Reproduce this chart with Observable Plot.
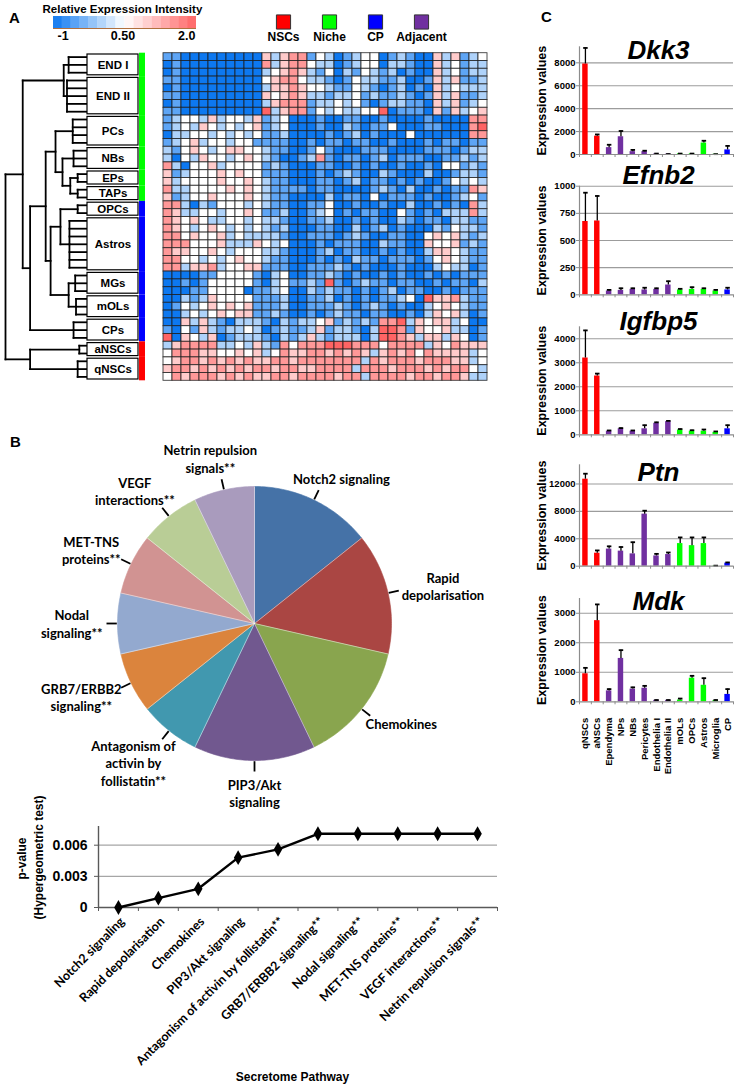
<!DOCTYPE html>
<html><head><meta charset="utf-8">
<script src="https://cdn.jsdelivr.net/npm/d3@7"></script>
<script src="https://cdn.jsdelivr.net/npm/@observablehq/plot@0.6"></script>
<style>
body{margin:0;background:#fff}
#fig{position:relative;width:738px;height:1085px;overflow:hidden;background:#fff}
#fig svg{position:absolute;left:0;top:0}
</style></head><body><div id="fig"></div>
<script>
// ---------------- DATA ----------------
// Panel A heatmap: 42 rows x 36 genes, digit level 0..6 -> value via heatLevels
const heatLevels = [-1, -0.5, 0, 0.5, 1, 1.5, 2];
const heatRows = [
 ["11000000000","42455","13201233012100424123"],
 ["01000000000","52455","32201233022100423122"],
 ["01000000000","23454","21302132120100423122"],
 ["11000000000","34553","22101322112001424112"],
 ["01000000000","24454","33211321012010423222"],
 ["11000000000","43454","22122312112101424112"],
 ["01000000000","24555","12232310122110424123"],
 ["11000000000","62455","13232233601110414234"],
 ["12332423324","12300","01001100100001000055"],
 ["12324323234","12300","01002101130001100056"],
 ["02233232323","11200","00101201000300000055"],
 ["12342332331","11100","10110110010001011011"],
 ["21343234433","21100","13100011100001110122"],
 ["20324332343","21001","25101101201110011212"],
 ["52033423333","12100","01100101001001033121"],
 ["41233343433","11100","01012100210002001221"],
 ["42333343343","21100","01101201101010013232"],
 ["52233334343","21111","01100001210200101154"],
 ["41233433343","21100","00201103011101001231"],
 ["55202133323","21100","11300100100200101052"],
 ["54223323343","11200","12301011003101022252"],
 ["54343223323","22100","11200101002101102211"],
 ["54323432323","21200","01100201201000213221"],
 ["55343342322","22100","11101210011003434212"],
 ["55533342224","32300","01011100211004334121"],
 ["54433432333","22100","01201100101002443211"],
 ["55332323433","21100","01010211011101343211"],
 ["55244523344","11100","11121010001000232201"],
 ["00001133331","02300","11210100101001010111"],
 ["00101333331","02311","21610121101100101102"],
 ["00011333301","12300","21211010120110010111"],
 ["00212433331","11200","11201010112306445211"],
 ["01323434341","11200","11121012101002343211"],
 ["00232343441","12100","10121101100102434201"],
 ["00424210222","10212","23412121556243442300"],
 ["10314212232","01211","24122102665143342201"],
 ["60432401222","10212","42122202665424424301"],
 ["24555522324","21535","55666555355552435444"],
 ["35554433434","23544","55454542454535444423"],
 ["34554545454","45545","55555525455545554423"],
 ["45545454545","54554","45555255545554545532"],
 ["35455545454","45545","55545525555455455422"]
].map(a => a.join(""));

const groups      = ["END I","END II","PCs","NBs","EPs","TAPs","OPCs","Astros","MGs","mOLs","CPs","aNSCs","qNSCs"];
const groupRows   = [3,5,4,3,2,2,2,7,3,3,3,2,3];
const groupClass  = ["Niche","Niche","Niche","Niche","Niche","Niche","CP","CP","CP","CP","CP","NSCs","NSCs"];
const groupInner  = [2.3,2.5,1.8,1.7,1.2,1.2,1.2,2.2,1.5,1.4,1.7,1.0,1.2];
// dendrogram merges (h = linkage distance)
const tree = {h:10, c:[
  {h:7.9, c:[
    {h:2.9, c:["END I","END II"]},
    {h:7.0, c:[
      {h:5.1, c:[
        {h:3.9, c:["PCs", {h:3.05, c:["NBs", {h:2.1, c:["EPs","TAPs"]}]}]},
        {h:4.5, c:[{h:3.3, c:["OPCs","Astros"]}, {h:2.3, c:["MGs","mOLs"]}]}
      ]},
      "CPs"
    ]}
  ]},
  {h:7.0, c:["aNSCs","qNSCs"]}
]};

const legendCats   = ["NSCs","Niche","CP","Adjacent"];
const legendColors = ["#ff0000","#00ff00","#0000ff","#7030a0"];
const legendTicks  = [-1, 0.5, 2];
const legendTickLabels = ["-1","0.50","2.0"];

// Panel B
const pieNames  = ["Notch2 signaling","Rapid\ndepolarisation","Chemokines","PIP3/Akt\nsignaling","Antagonism of\nactivin by\nfollistatin**","GRB7/ERBB2\nsignaling**","Nodal\nsignaling**","MET-TNS\nproteins**","VEGF\ninteractions**","Netrin repulsion\nsignals**"];
const pieValues = [2,2,2,2,1,1,1,1,1,1];
const pieColors = ["#4572a7","#aa4643","#89a54e","#71588f","#4198af","#db843d","#93a9cf","#d19392","#b9cd96","#a99bbd"];
const pathways  = ["Notch2 signaling","Rapid depolarisation","Chemokines","PIP3/Akt signaling","Antagonism of activin by follistatin**","GRB7/ERBB2 signaling**","Nodal signaling**","MET-TNS proteins**","VEGF interactions**","Netrin repulsion signals**"];
const pValues   = [0,0.0009,0.0018,0.0048,0.0056,0.0071,0.0071,0.0071,0.0071,0.0071];
const pTicks    = [0,0.003,0.006];
const pTickLabels = ["0","0.003","0.006"];

// Panel C
const cellTypes = ["qNSCs","aNSCs","Ependyma","NPs","NBs","Pericytes","Endothelia I","Endothelia II","mOLs","OPCs","Astros","Microglia","CP"];
const cellGroup = ["NSCs","NSCs","Adjacent","Adjacent","Adjacent","Adjacent","Adjacent","Adjacent","Niche","Niche","Niche","Niche","CP"];
const dkk3Mean   = [7900,1600,600,1550,250,250,50,30,60,60,1000,20,400];
const dkk3Top    = [9300,1750,850,2050,400,330,80,40,80,80,1200,30,750];
const dkk3Ticks  = [0,2000,4000,6000,8000];
const efnb2Mean  = [675,680,35,40,50,45,50,90,45,50,50,35,45];
const efnb2Top   = [940,910,45,60,60,65,60,125,55,70,60,45,65];
const efnb2Ticks = [0,250,500,750,1000];
const igfbp5Mean = [3200,2450,150,250,150,250,480,550,200,150,150,100,250];
const igfbp5Top  = [4350,2550,180,280,180,400,520,580,240,190,220,140,400];
const igfbp5Ticks= [0,1000,2000,3000,4000];
const ptnMean    = [12700,1900,2500,2200,1800,7600,1500,1700,3300,3000,3300,50,450];
const ptnTop     = [13500,2300,2900,2800,3500,8100,1800,2000,4200,4200,4200,80,550];
const ptnTicks   = [0,4000,8000,12000];
const mdkMean    = [950,2750,370,1470,430,460,50,50,60,800,560,40,250];
const mdkTop     = [1150,3300,430,1750,490,540,60,60,110,880,800,60,430];
const mdkTicks   = [0,1000,2000,3000];

// ---------------- RENDER ----------------
const ARIAL = "'Liberation Sans', Arial, Helvetica, sans-serif";
const CAL = "Lato, 'Open Sans', sans-serif";
const W = 738, H = 1085;
const fig = document.getElementById("fig");
function layer(opts){
  const svg = Plot.plot({width: W, height: H, margin: 0, ...opts,
    style: {background: "transparent", overflow: "visible", fontFamily: ARIAL, fontSize: "11px", color: "#000"}});
  fig.appendChild(svg);
  return svg;
}
const groupColor = Object.fromEntries(legendCats.map((c,i)=>[c, legendColors[i]]));
const heatColor = {type: "linear", domain: [-1, 0.5, 2], range: ["#0d78f0", "#ffffff", "#ff6464"]};

// ---- Heatmap legend (gradient) ----
const nSteps = 16;
const legendStops = d3.range(nSteps).map(k => ({x1: -1 + 3*k/nSteps, x2: -1 + 3*(k+1)/nSteps, v: -1 + 3*(k+0.5)/nSteps}));
layer({marginLeft: 53, marginRight: W-196, marginTop: 16, marginBottom: H-28,
  x: {domain: [-1, 2], axis: null}, y: {domain: [0, 1], axis: null}, color: heatColor,
  marks: [
    Plot.rect(legendStops, {x1: "x1", x2: "x2", y1: 0, y2: 1, fill: "v"}),
    Plot.ruleY([0], {stroke: "#b0703e", strokeWidth: 1.2}),
    ...legendTicks.map((t, i) => Plot.text([t], {x: d => d, frameAnchor: "bottom", text: () => legendTickLabels[i],
      textAnchor: i === 0 ? "start" : (i === legendTicks.length-1 ? "end" : "middle"),
      dx: i === 0 ? 4 : (i === legendTicks.length-1 ? -1 : -2), dy: 11, lineAnchor: "bottom", fontSize: 12.5, fontWeight: "bold"}))
  ]});

// ---- Category legend ----
layer({marginLeft: 282, marginRight: W-421, marginTop: 15, marginBottom: H-28,
  x: {type: "point", domain: legendCats, padding: 0, axis: null},
  marks: [
    Plot.dot(legendCats, {x: d => d, frameAnchor: "middle", symbol: "square", r: 8, fill: (d,i) => legendColors[i], stroke: "#333", strokeWidth: 1}),
    Plot.text(legendCats, {x: d => d, frameAnchor: "bottom", dy: 12, lineAnchor: "bottom", fontSize: 12, fontWeight: "bold"})
  ]});

// ---- Heatmap ----
const cells = heatRows.flatMap((s, r) => [...s].map((ch, c) => ({row: r, col: c, value: heatLevels[+ch]})));
const nRows = heatRows.length, nCols = heatRows[0].length;
const HM = {left: 158, right: 492, top: 52.7, bottom: 380.3};
layer({marginLeft: HM.left, marginRight: W-HM.right, marginTop: HM.top, marginBottom: H-HM.bottom,
  x: {type: "band", domain: d3.range(nCols), padding: 0, axis: null},
  y: {type: "band", domain: d3.range(nRows), padding: 0, axis: null},
  color: heatColor,
  marks: [Plot.cell(cells, {x: "col", y: "row", fill: "value", stroke: "#1c1c1c", strokeWidth: 0.9, strokeOpacity: 0.85})]});

// ---- Dendrogram ----
const groupStart = []; { let acc = 0; groupRows.forEach(n => { groupStart.push(acc); acc += n; }); }
const segs = [];
function lay(node){
  if (typeof node === "string"){
    const gi = groups.indexOf(node), s = groupStart[gi], n = groupRows[gi], h = groupInner[gi];
    const ys = d3.range(n).map(k => s + k + 0.5);
    ys.forEach(y => segs.push({x1: h, x2: 0, y1: y, y2: y}));
    if (n > 1) segs.push({x1: h, x2: h, y1: ys[0], y2: ys[n-1]});
    return {y: d3.mean(ys), h};
  }
  const kids = node.c.map(lay);
  kids.forEach(k => segs.push({x1: node.h, x2: k.h, y1: k.y, y2: k.y}));
  segs.push({x1: node.h, x2: node.h, y1: d3.min(kids, k => k.y), y2: d3.max(kids, k => k.y)});
  return {y: d3.mean(kids, k => k.y), h: node.h};
}
lay(tree);
layer({marginLeft: 5, marginRight: W-87, marginTop: HM.top, marginBottom: H-HM.bottom,
  x: {domain: [10, 0], axis: null}, y: {domain: [0, nRows], reverse: true, axis: null},
  marks: [Plot.link(segs, {x1: "x1", x2: "x2", y1: "y1", y2: "y2", stroke: "#000", strokeWidth: 1.8, strokeLinecap: "square"})]});

// ---- Group label boxes + class colour bar ----
const groupData = groups.map((g, i) => ({name: g, start: groupStart[i], end: groupStart[i] + groupRows[i], cls: groupClass[i]}));
layer({marginLeft: 87, marginRight: W-138, marginTop: HM.top, marginBottom: H-HM.bottom,
  x: {domain: [0, 1], axis: null}, y: {domain: [0, nRows], reverse: true, axis: null},
  marks: [
    Plot.rect(groupData, {x1: 0, x2: 1, y1: "start", y2: "end", fill: "#fff", stroke: "#000", strokeWidth: 1.2, insetTop: 1.3, insetBottom: 1.3}),
    Plot.text(groupData, {x: 0.5, y: d => (d.start + d.end)/2, text: "name", fontSize: 11.5, fontWeight: "bold"}),
    Plot.rect(groupData, {x1: 1.02, x2: 1.137, y1: "start", y2: "end", fill: d => groupColor[d.cls]})
  ]});

// ---- Pie chart ----
const R = 137, PC = {x: 254, y: 623};
const pieArcs = d3.pie().sort(null).value(d => d)(pieValues);
const measure = document.createElement("canvas").getContext("2d");
measure.font = "bold 13px Lato";
const slices = pieArcs.map((a, i) => {
  const pts = [{x: 0, y: 0}];
  const n = Math.max(2, Math.ceil((a.endAngle - a.startAngle) / (Math.PI/180)));
  for (let k = 0; k <= n; k++){ const t = a.startAngle + (a.endAngle - a.startAngle)*k/n; pts.push({x: Math.sin(t), y: Math.cos(t)}); }
  pts.push({x: 0, y: 0});
  return {pts, color: pieColors[i]};
});
const pieLabels = pieArcs.map((a, i) => {
  const m = (a.startAngle + a.endAngle)/2, sx = Math.sin(m), cy = Math.cos(m);
  const lines = pieNames[i].split("\n");
  const w = d3.max(lines, l => measure.measureText(l).width), h = lines.length*17.5;
  const P = R + 11;
  return {name: pieNames[i], m,
    x: (sx*P + sx*(w/2 + 4))/R, y: (cy*P + cy*(h/2 + 4))/R};
});
layer({marginLeft: PC.x - R, marginRight: W - (PC.x + R), marginTop: PC.y - R, marginBottom: H - (PC.y + R),
  x: {domain: [-1, 1], axis: null}, y: {domain: [-1, 1], axis: null},
  marks: [
    ...slices.map(s => Plot.line(s.pts, {x: "x", y: "y", fill: s.color, stroke: s.color, strokeWidth: 0.6})),
    Plot.link(pieArcs, {x1: 0, y1: 0, x2: a => Math.sin(a.startAngle), y2: a => Math.cos(a.startAngle), stroke: "#fff", strokeWidth: 0.8, strokeOpacity: 0.6}),
    Plot.link(pieLabels, {x1: d => Math.sin(d.m)*1.005, y1: d => Math.cos(d.m)*1.005, x2: d => Math.sin(d.m)*(1 + 11/R), y2: d => Math.cos(d.m)*(1 + 11/R), stroke: "#000", strokeWidth: 1.8}),
    Plot.text(pieLabels, {x: "x", y: "y", text: "name", lineAnchor: "middle", textAnchor: "middle", lineHeight: 1.35, fontFamily: CAL, fontSize: 13, fontWeight: "bold"})
  ]});

// ---- p-value line chart ----
const LC = {left: 98, right: 497, top: 826, bottom: 907, ymax: 0.0078};
const lcUPP = LC.ymax/(LC.bottom - LC.top), lcStep = pathways.length/(LC.right - LC.left);
const lcData = pathways.map((p, i) => ({i, p, v: pValues[i]}));
layer({marginLeft: LC.left, marginRight: W - LC.right, marginTop: LC.top, marginBottom: H - LC.bottom,
  x: {domain: [-0.5, pathways.length - 0.5], axis: null}, y: {domain: [0, LC.ymax], axis: null},
  marks: [
    Plot.ruleY(pTicks.filter(t => t > 0), {stroke: "#a6a6a6", strokeWidth: 1.2}),
    Plot.ruleY([0], {stroke: "#595959", strokeWidth: 1.4}),
    Plot.ruleX([-0.5], {y1: 0, y2: LC.ymax, stroke: "#595959", strokeWidth: 1.4}),
    Plot.ruleX(d3.range(pathways.length + 1).map(i => i - 0.5), {y1: 0, y2: -4*lcUPP, stroke: "#595959"}),
    Plot.ruleY(pTicks, {x1: -0.5 - 4*lcStep, x2: -0.5, stroke: "#595959"}),
    Plot.line(lcData, {x: "i", y: "v", stroke: "#000", strokeWidth: 2.4}),
    Plot.dot(lcData, {x: "i", y: "v", symbol: "diamond", r: 4.5, fill: "#000"}),
    Plot.text(pTicks, {x: -0.5, y: d => d, text: (d, i) => pTickLabels[i], textAnchor: "end", dx: -11, fontSize: 14, fontWeight: "bold"}),
    Plot.text(lcData, {x: "i", y: 0, text: "p", rotate: -45, textAnchor: "end", dx: 4, dy: 12, fontFamily: CAL, fontSize: 12.5, fontWeight: "bold"})
  ]});

// ---- Panel C bar charts ----
const genes = [
  {name: "Dkk3",   mean: dkk3Mean,   top: dkk3Top,   ticks: dkk3Ticks},
  {name: "Efnb2",  mean: efnb2Mean,  top: efnb2Top,  ticks: efnb2Ticks},
  {name: "Igfbp5", mean: igfbp5Mean, top: igfbp5Top, ticks: igfbp5Ticks},
  {name: "Ptn",    mean: ptnMean,    top: ptnTop,    ticks: ptnTicks},
  {name: "Mdk",    mean: mdkMean,    top: mdkTop,    ticks: mdkTicks}
];
const chartLayout = [
  {y0: 154,   top: 46.3,  ymax: 9400,  title: 58},
  {y0: 294.3, top: 185.7, ymax: 1000,  title: 183},
  {y0: 434.3, top: 326.3, ymax: 4500,  title: 329},
  {y0: 565.7, top: 464.3, ymax: 14800, title: 480},
  {y0: 701.3, top: 598,   ymax: 3500,  title: 609}
];
const BC = {left: 579, right: 733};
genes.forEach((g, k) => {
  const L = chartLayout[k];
  const data = cellTypes.map((c, i) => ({i, cell: c, grp: cellGroup[i], mean: g.mean[i], top: g.top[i]}));
  const upp = L.ymax/(L.y0 - L.top), step = cellTypes.length/(BC.right - BC.left);
  layer({marginLeft: BC.left, marginRight: W - BC.right, marginTop: L.top, marginBottom: H - L.y0,
    x: {domain: [-0.5, cellTypes.length - 0.5], axis: null}, y: {domain: [0, L.ymax], axis: null},
    marks: [
      Plot.ruleY(g.ticks.filter(t => t > 0), {stroke: "#9c9c9c", strokeWidth: 1.1}),
      Plot.rect(data, {x1: d => d.i - 0.23, x2: d => d.i + 0.23, y1: 0, y2: "mean", fill: d => groupColor[d.grp]}),
      Plot.ruleX(data, {x: "i", y1: "mean", y2: "top", stroke: "#000", strokeWidth: 1.3}),
      Plot.link(data, {x1: d => d.i - 0.19, x2: d => d.i + 0.19, y1: "top", y2: "top", stroke: "#000", strokeWidth: 1.8}),
      Plot.ruleY([0], {stroke: "#8c8c8c", strokeWidth: 1.2}),
      Plot.ruleX([-0.5], {y1: 0, y2: L.ymax, stroke: "#8c8c8c", strokeWidth: 1.2}),
      Plot.ruleX(d3.range(cellTypes.length + 1).map(i => i - 0.5), {y1: 0, y2: -3*upp, stroke: "#8c8c8c"}),
      Plot.ruleY(g.ticks, {x1: -0.5 - 3*step, x2: -0.5, stroke: "#8c8c8c"}),
      Plot.text(g.ticks, {x: -0.5, y: d => d, text: d => String(d), textAnchor: "end", dx: -4, fontSize: 9.5, fontWeight: "bold"}),
      Plot.text([g.name], {frameAnchor: "top", textAnchor: "middle", dx: 2, dy: L.title - L.top, lineAnchor: "bottom", fontSize: 26, fontWeight: "bold", fontStyle: "italic"}),
      Plot.text(["Expression values"], {frameAnchor: "left", textAnchor: "middle", lineAnchor: "middle", dx: -38, rotate: -90, fontSize: 12.5, fontWeight: "bold"}),
      ...(k === genes.length - 1 ? [Plot.text(cellTypes, {x: (d, i) => i, y: 0, rotate: -90, textAnchor: "end", dy: 16, fontSize: 9.5, fontWeight: "bold"})] : [])
    ]});
});

// ---- Static texts ----
layer({x: {type: "identity", axis: null}, y: {type: "identity", axis: null},
  marks: [
    Plot.text([{x: 14, y: 22, t: "A"}, {x: 15, y: 446, t: "B"}, {x: 546, y: 21, t: "C"}], {x: "x", y: "y", text: "t", lineAnchor: "bottom", fontSize: 15, fontWeight: "bold"}),
    Plot.text([{x: 42, y: 12, t: "Relative Expression Intensity"}], {x: "x", y: "y", text: "t", textAnchor: "start", lineAnchor: "bottom", fontSize: 11.5, fontWeight: "bold"}),
    Plot.text([{x: 22, y: 858, t: "p-value"}, {x: 39, y: 857, t: "(Hypergeometric test)"}], {x: "x", y: "y", text: "t", rotate: -90, fontSize: 12, fontWeight: "bold"}),
    Plot.text([{x: 292, y: 1080, t: "Secretome Pathway"}], {x: "x", y: "y", text: "t", lineAnchor: "bottom", fontSize: 12, fontWeight: "bold"})
  ]});
</script></body></html>
